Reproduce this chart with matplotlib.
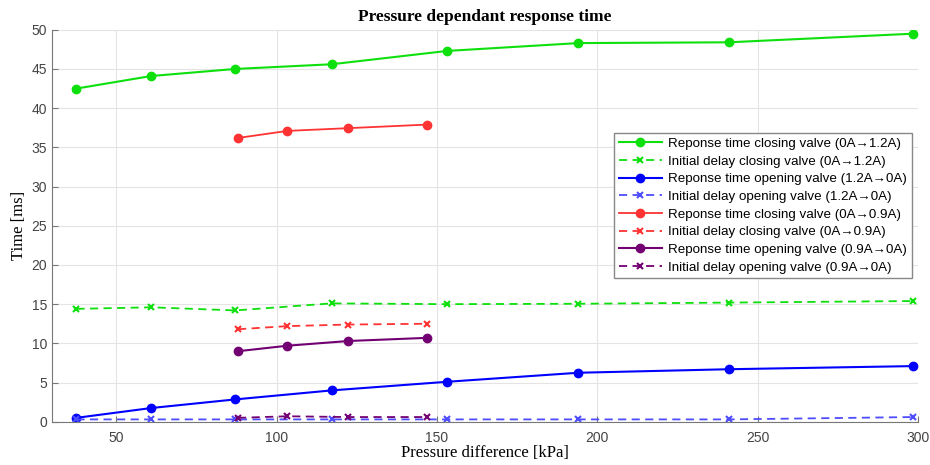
import numpy as np
import matplotlib.pyplot as plt

# pressure difference [kPa] for the two current levels
pressure_12 = [37.6, 60.9, 87.1, 117.2, 153.2, 194.1, 241.0, 298.6]
pressure_09 = [88.0, 103.4, 122.4, 146.8]

# 0A <-> 1.2A
closing_12 = [42.5, 44.1, 45.0, 45.6, 47.3, 48.3, 48.4, 49.5]
closing_delay_12 = [14.4, 14.6, 14.2, 15.1, 15.0, 15.05, 15.2, 15.4]
opening_12 = [0.5, 1.75, 2.85, 4.0, 5.1, 6.25, 6.7, 7.1]
opening_delay_12 = [0.3, 0.3, 0.3, 0.3, 0.3, 0.3, 0.3, 0.6]

# 0A <-> 0.9A
closing_09 = [36.2, 37.1, 37.45, 37.9]
closing_delay_09 = [11.8, 12.2, 12.4, 12.5]
opening_09 = [9.0, 9.7, 10.3, 10.7]
opening_delay_09 = [0.5, 0.7, 0.6, 0.6]

green = (0.05, 0.88, 0.05)
blue = (0.0, 0.0, 1.0)
red = (1.0, 0.2, 0.2)
purple = (0.45, 0.0, 0.45)
dash = (4.5, 3.0)

fig = plt.figure(figsize=(9.3, 4.65), dpi=100)
ax = fig.add_axes([0.056, 0.093, 0.931, 0.843])

ax.plot(pressure_12, closing_12, '-o', color=green, lw=1.5, ms=6,
        label='Reponse time closing valve (0A\u21921.2A)')
ax.plot(pressure_12, closing_delay_12, '--x', color=green, lw=1.3, ms=5, mew=1.5,
        dashes=dash, label='Initial delay closing valve (0A\u21921.2A)')
ax.plot(pressure_12, opening_12, '-o', color=blue, lw=1.5, ms=6,
        label='Reponse time opening valve (1.2A\u21920A)')
ax.plot(pressure_12, opening_delay_12, '--x', color=(0.3, 0.3, 1.0), lw=1.3, ms=5,
        mew=1.5, dashes=dash, label='Initial delay opening valve (1.2A\u21920A)')
ax.plot(pressure_09, closing_09, '-o', color=red, lw=1.3, ms=6,
        label='Reponse time closing valve (0A\u21920.9A)')
ax.plot(pressure_09, closing_delay_09, '--x', color=red, lw=1.3, ms=5, mew=1.5,
        dashes=dash, label='Initial delay closing valve (0A\u21920.9A)')
ax.plot(pressure_09, opening_09, '-o', color=purple, lw=1.5, ms=6,
        label='Reponse time opening valve (0.9A\u21920A)')
ax.plot(pressure_09, opening_delay_09, '--x', color=purple, lw=1.3, ms=5, mew=1.5,
        dashes=dash, label='Initial delay opening valve (0.9A\u21920A)')

ax.set_xlim(30, 300)
ax.set_ylim(0, 50)
ax.set_xticks(np.arange(50, 301, 50))
ax.set_yticks(np.arange(0, 51, 5))
ax.grid(True, color='#e4e4e4', lw=0.8)
ax.set_axisbelow(True)
for side in ['top', 'right']:
    ax.spines[side].set_visible(False)
for side in ['left', 'bottom']:
    ax.spines[side].set_color('#777777')
ax.tick_params(direction='in', length=4, color='#777777', labelcolor='#444444',
               labelsize=10)
ax.tick_params(axis='x', pad=7)
for lbl in ax.get_xticklabels() + ax.get_yticklabels():
    lbl.set_family('Liberation Sans')

ax.set_title('Pressure dependant response time', family='Liberation Serif',
             fontweight='bold', fontsize=12.5, pad=6)
ax.set_xlabel('Pressure difference [kPa]', family='Liberation Serif', fontsize=12,
              labelpad=0)
ax.set_ylabel('Time [ms]', family='Liberation Serif', fontsize=12, labelpad=3)

leg = ax.legend(loc='upper right', bbox_to_anchor=(0.993, 0.737), borderaxespad=0,
                prop={'family': 'Liberation Sans', 'size': 9.6}, fancybox=False,
                framealpha=1, edgecolor='#888888', labelspacing=0.4,
                handlelength=3.2, handletextpad=0.5, borderpad=0.35)
leg.get_frame().set_linewidth(1.0)

fig.savefig('out.png', dpi=100)
